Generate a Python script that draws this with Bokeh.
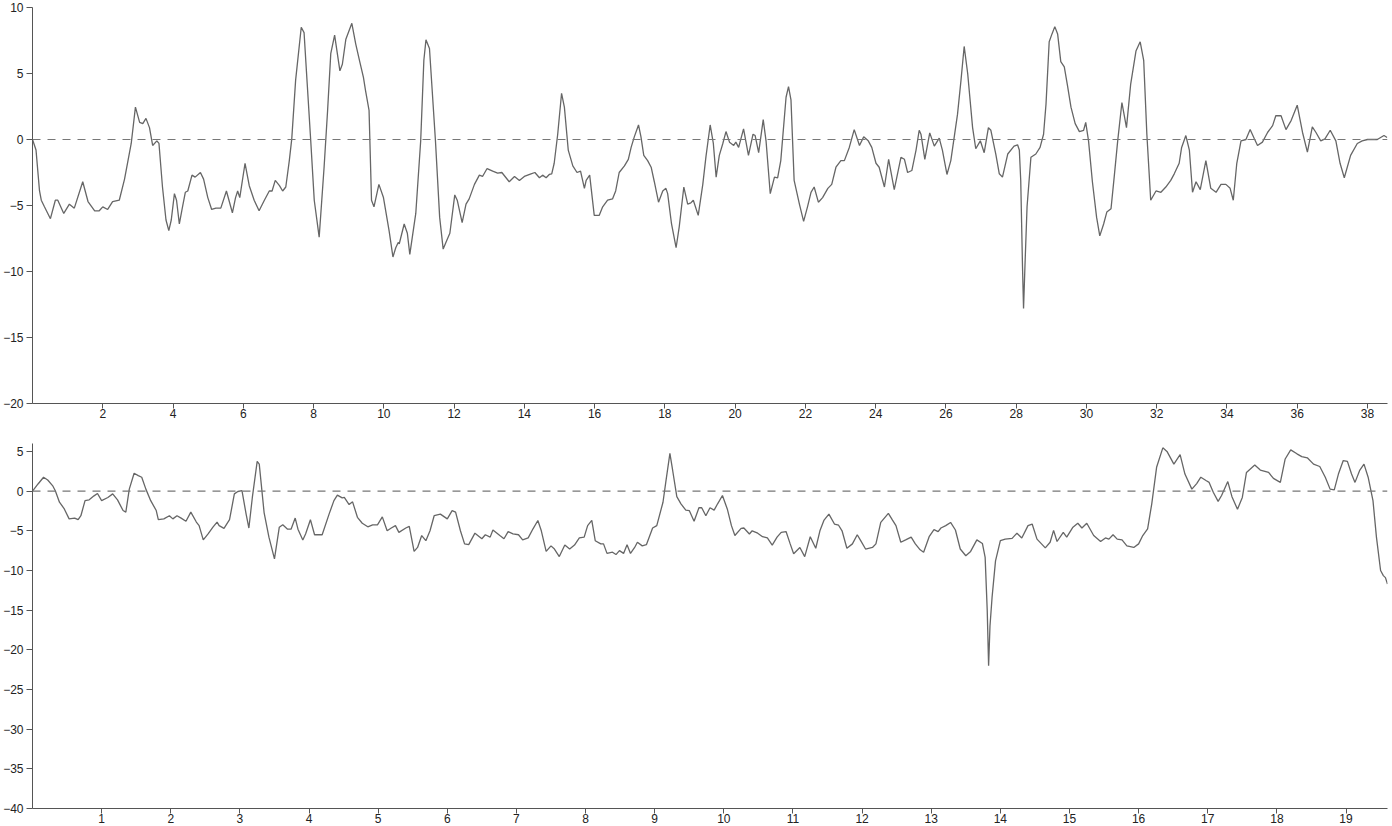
from bokeh.plotting import figure
from bokeh.layouts import column
from bokeh.models import Range1d, FixedTicker, Span
from bokeh.embed import file_html
from bokeh.resources import INLINE

# ---- top series ----
top_x = [0, 0.1, 0.2, 0.25, 0.34, 0.51, 0.65, 0.72, 0.89, 1.05, 1.19, 1.43, 1.58, 1.77, 1.9, 2.0, 2.14, 2.28, 2.47, 2.62,
         2.81, 2.93, 3.05, 3.14, 3.23, 3.33, 3.42, 3.54, 3.6, 3.7, 3.8, 3.88, 3.95, 4.04, 4.1, 4.18, 4.27, 4.35, 4.42, 4.54,
         4.63, 4.78, 4.87, 4.99, 5.1, 5.22, 5.36, 5.52, 5.69, 5.78, 5.84, 5.9, 6.05, 6.17, 6.31, 6.45, 6.6, 6.74, 6.82, 6.91,
         7.03, 7.12, 7.21, 7.31, 7.38, 7.49, 7.65, 7.73, 7.82, 7.92, 8.02, 8.16, 8.3, 8.4, 8.49, 8.6, 8.75, 8.82, 8.92, 9.09,
         9.2, 9.32, 9.42, 9.48, 9.58, 9.65, 9.72, 9.86, 9.99, 10.15, 10.26, 10.34, 10.41, 10.44, 10.58, 10.67, 10.74, 10.91,
         11.05, 11.14, 11.2, 11.3, 11.47, 11.59, 11.69, 11.8, 11.88, 12.02, 12.09, 12.23,
         12.34, 12.43, 12.58, 12.72, 12.81, 12.94, 13.1, 13.24, 13.36, 13.57, 13.72, 13.86, 14.0, 14.19, 14.3, 14.43, 14.52,
         14.62, 14.71, 14.78, 14.85, 14.95, 15.06, 15.14, 15.25, 15.38, 15.5, 15.6, 15.71, 15.76, 15.86, 15.99, 16.13, 16.23,
         16.37, 16.51, 16.6, 16.7, 16.85, 16.96, 17.04, 17.13, 17.25, 17.32, 17.4, 17.51, 17.61, 17.7, 17.82, 17.94, 18.03,
         18.08, 18.19, 18.32, 18.41, 18.54, 18.65, 18.74, 18.81, 18.95, 19.08, 19.17, 19.29, 19.38, 19.46, 19.55, 19.65,
         19.74, 19.84, 19.96, 20.02, 20.1, 20.24, 20.38, 20.51, 20.57, 20.67, 20.8, 20.88, 21.0, 21.12, 21.21, 21.3, 21.45,
         21.52, 21.59, 21.68, 21.83, 21.95, 22.06, 22.16, 22.25, 22.37, 22.49, 22.64, 22.75, 22.87, 23.01, 23.11, 23.25,
         23.39, 23.54, 23.66, 23.79, 23.89, 24.01, 24.1, 24.25, 24.37, 24.53, 24.72, 24.82, 24.91, 25.03, 25.15, 25.24,
         25.29, 25.4, 25.54, 25.67, 25.81, 25.9, 26.03, 26.14, 26.33, 26.43, 26.52, 26.62, 26.76, 26.85, 26.98, 27.09, 27.21,
         27.28, 27.42, 27.52, 27.61, 27.76, 27.94, 28.04, 28.09, 28.13, 28.18, 28.21, 28.25, 28.31, 28.42, 28.56, 28.68, 28.78,
         28.85, 28.94, 29.02, 29.1, 29.18, 29.27, 29.37, 29.46, 29.56, 29.68, 29.8, 29.92, 29.98, 30.06, 30.17, 30.29, 30.38,
         30.49, 30.58, 30.7, 30.79, 30.89, 31.01, 31.14, 31.26, 31.41, 31.53, 31.63, 31.72, 31.83, 31.98, 32.12, 32.26, 32.4,
         32.5, 32.64, 32.71, 32.83, 32.93, 33.02, 33.12, 33.24, 33.4, 33.54, 33.69, 33.83, 33.97, 34.09, 34.18, 34.28, 34.4,
         34.54, 34.66, 34.78, 34.87, 35.01, 35.16, 35.3, 35.39, 35.54, 35.68, 35.83, 36.0, 36.15, 36.29, 36.43, 36.53, 36.67,
         36.79, 36.94, 37.1, 37.22, 37.34, 37.52, 37.71, 37.85, 38.0, 38.28, 38.47, 38.56]
top_y = [0, -0.8, -3.9, -4.6, -5.1, -6.0, -4.6, -4.6, -5.6, -4.9, -5.2, -3.2, -4.7, -5.4, -5.4, -5.1, -5.3, -4.7, -4.6, -3.0,
         -0.3, 2.45, 1.3, 1.2, 1.6, 0.9, -0.45, -0.1, -0.3, -3.6, -6.1, -6.9, -6.1, -4.1, -4.6, -6.4, -5.1, -4.0, -3.9, -2.7,
         -2.85, -2.5, -3.0, -4.4, -5.3, -5.2, -5.2, -3.9, -5.55, -4.4, -3.9, -4.4, -1.8, -3.5, -4.6, -5.4, -4.6, -3.9, -3.9, -3.1,
         -3.5, -3.9, -3.6, -1.6, 0.05, 4.5, 8.5, 8.1, 4.2, -0.1, -4.6, -7.4, -2.1, 2.2, 6.5, 7.9, 5.2, 5.7, 7.6, 8.8,
         7.25, 5.85, 4.7, 3.7, 2.2, -4.6, -5.1, -3.4, -4.4, -6.9, -8.9, -8.2, -7.8, -7.9, -6.4, -7.1, -8.7, -5.6,
         -0.1, 6.0, 7.55, 6.9, -0.1, -5.9, -8.3, -7.6, -7.1, -4.2, -4.6, -6.3,
         -4.9, -4.5, -3.4, -2.7, -2.8, -2.2, -2.4, -2.55, -2.5, -3.2, -2.8, -3.1, -2.8, -2.6, -2.5, -2.9, -2.7,
         -2.9, -2.65, -2.6, -1.8, 0.4, 3.5, 2.45, -0.8, -2.0, -2.5, -2.4, -3.7, -3.1, -2.7, -5.75, -5.75, -5.1,
         -4.6, -4.5, -3.9, -2.5, -2.0, -1.5, -0.6, 0.2, 1.1, 0.2, -1.2, -1.6, -2.1, -3.2, -4.75, -3.9, -3.7,
         -4.1, -6.4, -8.2, -6.6, -3.6, -4.9, -4.8, -4.6, -5.75, -3.4, -1.3, 1.1, -0.3, -2.85, -1.2, -0.3,
         0.6, -0.2, -0.45, -0.2, -0.6, 0.8, -1.2, 0.4, 0.3, -1.0, 1.5, -0.1, -4.1, -2.85, -2.9, -1.6, 3.2,
         4.0, 3.0, -3.1, -4.9, -6.2, -5.1, -4.0, -3.6, -4.75, -4.4, -3.7, -3.4, -2.1, -1.6, -1.6, -0.6,
         0.75, -0.45, 0.2, -0.1, -0.6, -1.8, -2.1, -3.6, -1.5, -3.8, -1.35, -1.5, -2.5, -2.35, -0.8, 0.7,
         0.4, -1.5, 0.5, -0.5, 0.1, -0.8, -2.65, -1.6, 1.9, 4.5, 7.05, 5.0, 0.9, -0.7, -0.1, -1.0, 0.9,
         0.7, -1.1, -2.6, -2.85, -1.1, -0.5, -0.4, -0.8, -3.1, -9.6, -12.8, -9.6, -5.1, -1.35, -1.1, -0.6, 0.4,
         2.7, 7.4, 8.0, 8.55, 8.0, 5.9, 5.5, 4.1, 2.45, 1.2, 0.6, 0.7, 1.3, -0.1, -3.2, -5.9, -7.3,
         -6.4, -5.5, -5.25, -2.85, -0.1, 2.8, 0.9, 4.2, 6.7, 7.4, 6.0, 0.4, -4.6, -3.9, -4.0, -3.6, -3.1,
         -2.6, -1.8, -0.6, 0.3, -0.8, -4.0, -3.2, -3.8, -1.6, -3.7, -4.0, -3.4, -3.4, -3.7, -4.6, -1.8, -0.1,
         0.0, 0.75, 0.05, -0.45, -0.2, 0.55, 1.05, 1.8, 1.8, 0.75, 1.45, 2.6, 0.55, -0.95, 0.95, 0.55, -0.1,
         0.05, 0.7, -0.1, -1.8, -2.9, -1.2, -0.3, -0.1, 0.0, 0.0, 0.3, 0.15]

# ---- bottom series ----
bot_x = [0, 0.08, 0.16, 0.22, 0.29, 0.33, 0.39, 0.46, 0.53, 0.61, 0.66, 0.7, 0.76, 0.82, 0.89, 0.94, 1.0, 1.09, 1.16, 1.23,
         1.31, 1.35, 1.4, 1.47, 1.53, 1.58, 1.64, 1.71, 1.79, 1.82, 1.9, 1.98, 2.03, 2.09, 2.15, 2.22, 2.29, 2.37, 2.41, 2.47,
         2.54, 2.61, 2.67, 2.7, 2.77, 2.85, 2.92, 2.97, 3.03, 3.09, 3.13, 3.18, 3.25, 3.28, 3.35, 3.42, 3.5, 3.57, 3.62, 3.69,
         3.74, 3.8, 3.84, 3.91, 3.95, 4.02, 4.08, 4.19, 4.29, 4.36, 4.41, 4.48, 4.51, 4.58, 4.63, 4.7, 4.77, 4.85, 4.92, 4.99,
         5.06, 5.13, 5.19, 5.25, 5.3, 5.4, 5.45, 5.52, 5.57, 5.63, 5.69, 5.75, 5.81, 5.9, 6.0, 6.07, 6.12, 6.19,
         6.25, 6.31, 6.4, 6.5, 6.55, 6.62, 6.66, 6.76, 6.82, 6.88, 6.95, 7.03, 7.09, 7.17, 7.24, 7.31, 7.36, 7.43, 7.5, 7.55,
         7.62, 7.7, 7.77, 7.84, 7.91, 7.98, 8.03, 8.09, 8.14, 8.22, 8.26, 8.31, 8.39, 8.44, 8.49, 8.55, 8.6, 8.65, 8.71, 8.75,
         8.82, 8.88, 8.97, 9.03, 9.12, 9.16, 9.22, 9.26, 9.32, 9.38, 9.45, 9.5, 9.57, 9.64, 9.68, 9.74, 9.8, 9.86, 9.91, 9.98,
         10.05, 10.11, 10.16, 10.25, 10.29, 10.37, 10.41, 10.49, 10.56, 10.63, 10.7, 10.77, 10.83, 10.9, 10.96, 11.01, 11.1,
         11.17, 11.25, 11.33, 11.39, 11.45, 11.52, 11.6, 11.66, 11.71, 11.78, 11.86, 11.93, 11.98, 12.05, 12.15, 12.2, 12.27,
         12.38, 12.44, 12.49, 12.56, 12.63, 12.71, 12.77, 12.84,
         12.89, 12.97, 13.04, 13.1, 13.14, 13.21, 13.28, 13.35, 13.42, 13.5, 13.57, 13.66, 13.74, 13.78, 13.81, 13.83, 13.85,
         13.88, 13.93, 14.0, 14.07, 14.17, 14.24, 14.31, 14.4, 14.46, 14.53, 14.65, 14.72, 14.77, 14.82, 14.91, 14.96, 15.05,
         15.12, 15.18, 15.25, 15.35, 15.45, 15.52, 15.57, 15.63, 15.69, 15.76, 15.83, 15.93, 16.0, 16.06, 16.13, 16.19, 16.26,
         16.35, 16.41, 16.51, 16.6, 16.67, 16.77, 16.84, 16.9, 16.98, 17.02, 17.08, 17.15, 17.2, 17.29, 17.35, 17.43, 17.5,
         17.56, 17.68, 17.76, 17.88, 17.95, 18.05, 18.12, 18.2, 18.29, 18.36, 18.44, 18.53, 18.62, 18.7, 18.77, 18.83, 18.89,
         18.96, 19.02, 19.08, 19.13, 19.2, 19.26, 19.32, 19.39, 19.44, 19.5, 19.54, 19.57, 19.6]
bot_y = [0, 0.9, 1.75, 1.4, 0.7, 0.05, -1.4, -2.25, -3.5, -3.4, -3.6, -3.1, -1.2, -1.1, -0.6, -0.3, -1.2, -0.8, -0.35, -1.1,
         -2.45, -2.65, 0.25, 2.25, 1.95, 1.75, 0.25, -1.2, -2.45, -3.6, -3.5, -3.1, -3.5, -3.1, -3.4, -3.8, -2.65, -3.9, -4.35, -6.15,
         -5.4, -4.55, -3.9, -4.35, -4.7, -3.6, -0.35, -0.05, 0.05, -2.9, -4.65, -0.8, 3.75, 3.4, -2.7, -5.8, -8.55, -4.55, -4.25, -4.8,
         -4.8, -3.4, -4.8, -6.15, -5.4, -3.6, -5.5, -5.5, -2.9, -1.2, -0.5, -0.85, -0.8, -1.7, -1.35, -3.3, -4.05, -4.5, -4.25, -4.25,
         -3.25, -5.0, -4.65, -4.35, -5.2, -4.65, -4.45, -7.6, -7.1, -5.6, -6.25, -5.0, -3.1, -2.9, -3.5, -2.45, -2.65, -5.0,
         -6.65, -6.75, -5.3, -6.0, -5.5, -5.8, -4.9, -5.6, -6.0, -5.1, -5.4, -5.5, -6.15, -5.9, -4.75, -3.7, -5.0, -7.6, -6.9, -7.3,
         -8.25, -6.8, -7.3, -6.8, -5.9, -5.8, -4.35, -3.7, -6.25, -6.65, -6.65, -7.85, -7.7, -8.0, -7.5, -7.85, -6.75, -7.85, -7.1, -6.45,
         -6.9, -6.75, -4.65, -4.35, -1.4, 1.1, 4.75, 2.6, -0.7, -1.6, -2.4, -2.45, -3.8, -2.1, -2.1, -3.1, -2.1, -2.4, -1.6, -0.55,
         -2.25, -4.35, -5.6, -4.7, -4.65, -5.4, -5.0, -5.3, -5.75, -5.9, -6.8, -5.8, -5.2, -5.1, -6.65, -7.9, -7.1,
         -8.25, -5.75, -7.2, -5.0, -3.65, -2.9, -4.15, -4.3, -5.0, -7.2, -6.65, -5.5, -6.25, -7.3, -7.1, -6.65, -3.95,
         -2.8, -3.65, -4.35, -6.45, -6.15, -5.8, -6.65, -7.4,
         -7.7, -5.75, -4.85, -5.1, -4.65, -4.35, -3.95, -4.9, -7.3, -8.15, -7.6, -6.15, -6.6, -8.35, -15.0, -22.0, -17.0,
         -13.4, -8.8, -6.25, -6.05, -5.95, -5.3, -5.9, -4.35, -4.15, -6.05, -7.15, -6.45, -4.95, -6.35, -5.2, -5.8, -4.55,
         -4.05, -4.65, -4.05, -5.6, -6.35, -5.9, -6.05, -5.5, -6.05, -6.15, -6.9, -7.1, -6.65, -5.6, -4.75, -1.6, 3.0,
         5.45, 5.0, 3.4, 4.6, 2.15, 0.25, 0.95, 1.75, 1.3, 1.1, -0.15, -1.3, -0.55, 1.2, -0.7, -2.3, -0.8,
         2.35, 3.3, 2.65, 2.35, 1.6, 1.1, 4.05, 5.2, 4.7, 4.35, 4.2, 3.4, 3.1, 1.75, 0.25, 0.15, 2.15,
         3.85, 3.75, 2.15, 1.1, 2.65, 3.4, 1.75, -1.2, -5.8, -10.0, -10.65, -10.9, -11.7]

top_xticks = [2, 4, 6, 8, 10, 12, 14, 16, 18, 20, 22, 24, 26, 28, 30, 32, 34, 36, 38]
top_yticks = [-20, -15, -10, -5, 0, 5, 10]
bot_xticks = list(range(1, 20))
bot_yticks = [-40, -35, -30, -25, -20, -15, -10, -5, 0, 5]

FONT = "Liberation Sans"
LINE = "#666666"
AXIS = "#555555"
TEXT = "#222222"


def style(p, xt, yt):
    p.grid.visible = False
    p.outline_line_color = None
    p.background_fill_color = "white"
    p.border_fill_color = "white"
    p.xaxis.ticker = FixedTicker(ticks=xt)
    p.yaxis.ticker = FixedTicker(ticks=yt)
    for ax in (p.xaxis[0], p.yaxis[0]):
        ax.axis_line_color = AXIS
        ax.major_tick_line_color = AXIS
        ax.minor_tick_line_color = None
        ax.major_tick_in = 0
        ax.major_label_text_font = FONT
        ax.major_label_text_font_size = "12px"
        ax.major_label_text_color = TEXT
    p.xaxis.major_tick_out = 5
    p.xaxis.major_label_standoff = 0
    p.yaxis.major_tick_out = 6
    p.yaxis.major_label_standoff = 3


p1 = figure(width=1390, height=433, x_range=Range1d(0, 38.57), y_range=Range1d(-20, 10),
            output_backend="svg", toolbar_location=None,
            min_border_left=22, min_border_right=3, min_border_top=7, min_border_bottom=30)
style(p1, top_xticks, top_yticks)
p1.add_layout(Span(location=0, dimension="width", line_color="#777777", line_width=1.2, line_dash="8 7"))
p1.line(top_x, top_y, line_color=LINE, line_width=1.3)

p2 = figure(width=1390, height=393, x_range=Range1d(0, 19.6), y_range=Range1d(-40, 6),
            output_backend="svg", toolbar_location=None,
            min_border_left=24, min_border_right=2, min_border_top=10, min_border_bottom=18)
style(p2, bot_xticks, bot_yticks)
p2.add_layout(Span(location=0, dimension="width", line_color="#777777", line_width=1.2, line_dash="8 7"))
p2.line(bot_x, bot_y, line_color=LINE, line_width=1.3)

layout = column(p1, p2)
open("out.html", "w").write(file_html(layout, INLINE))
